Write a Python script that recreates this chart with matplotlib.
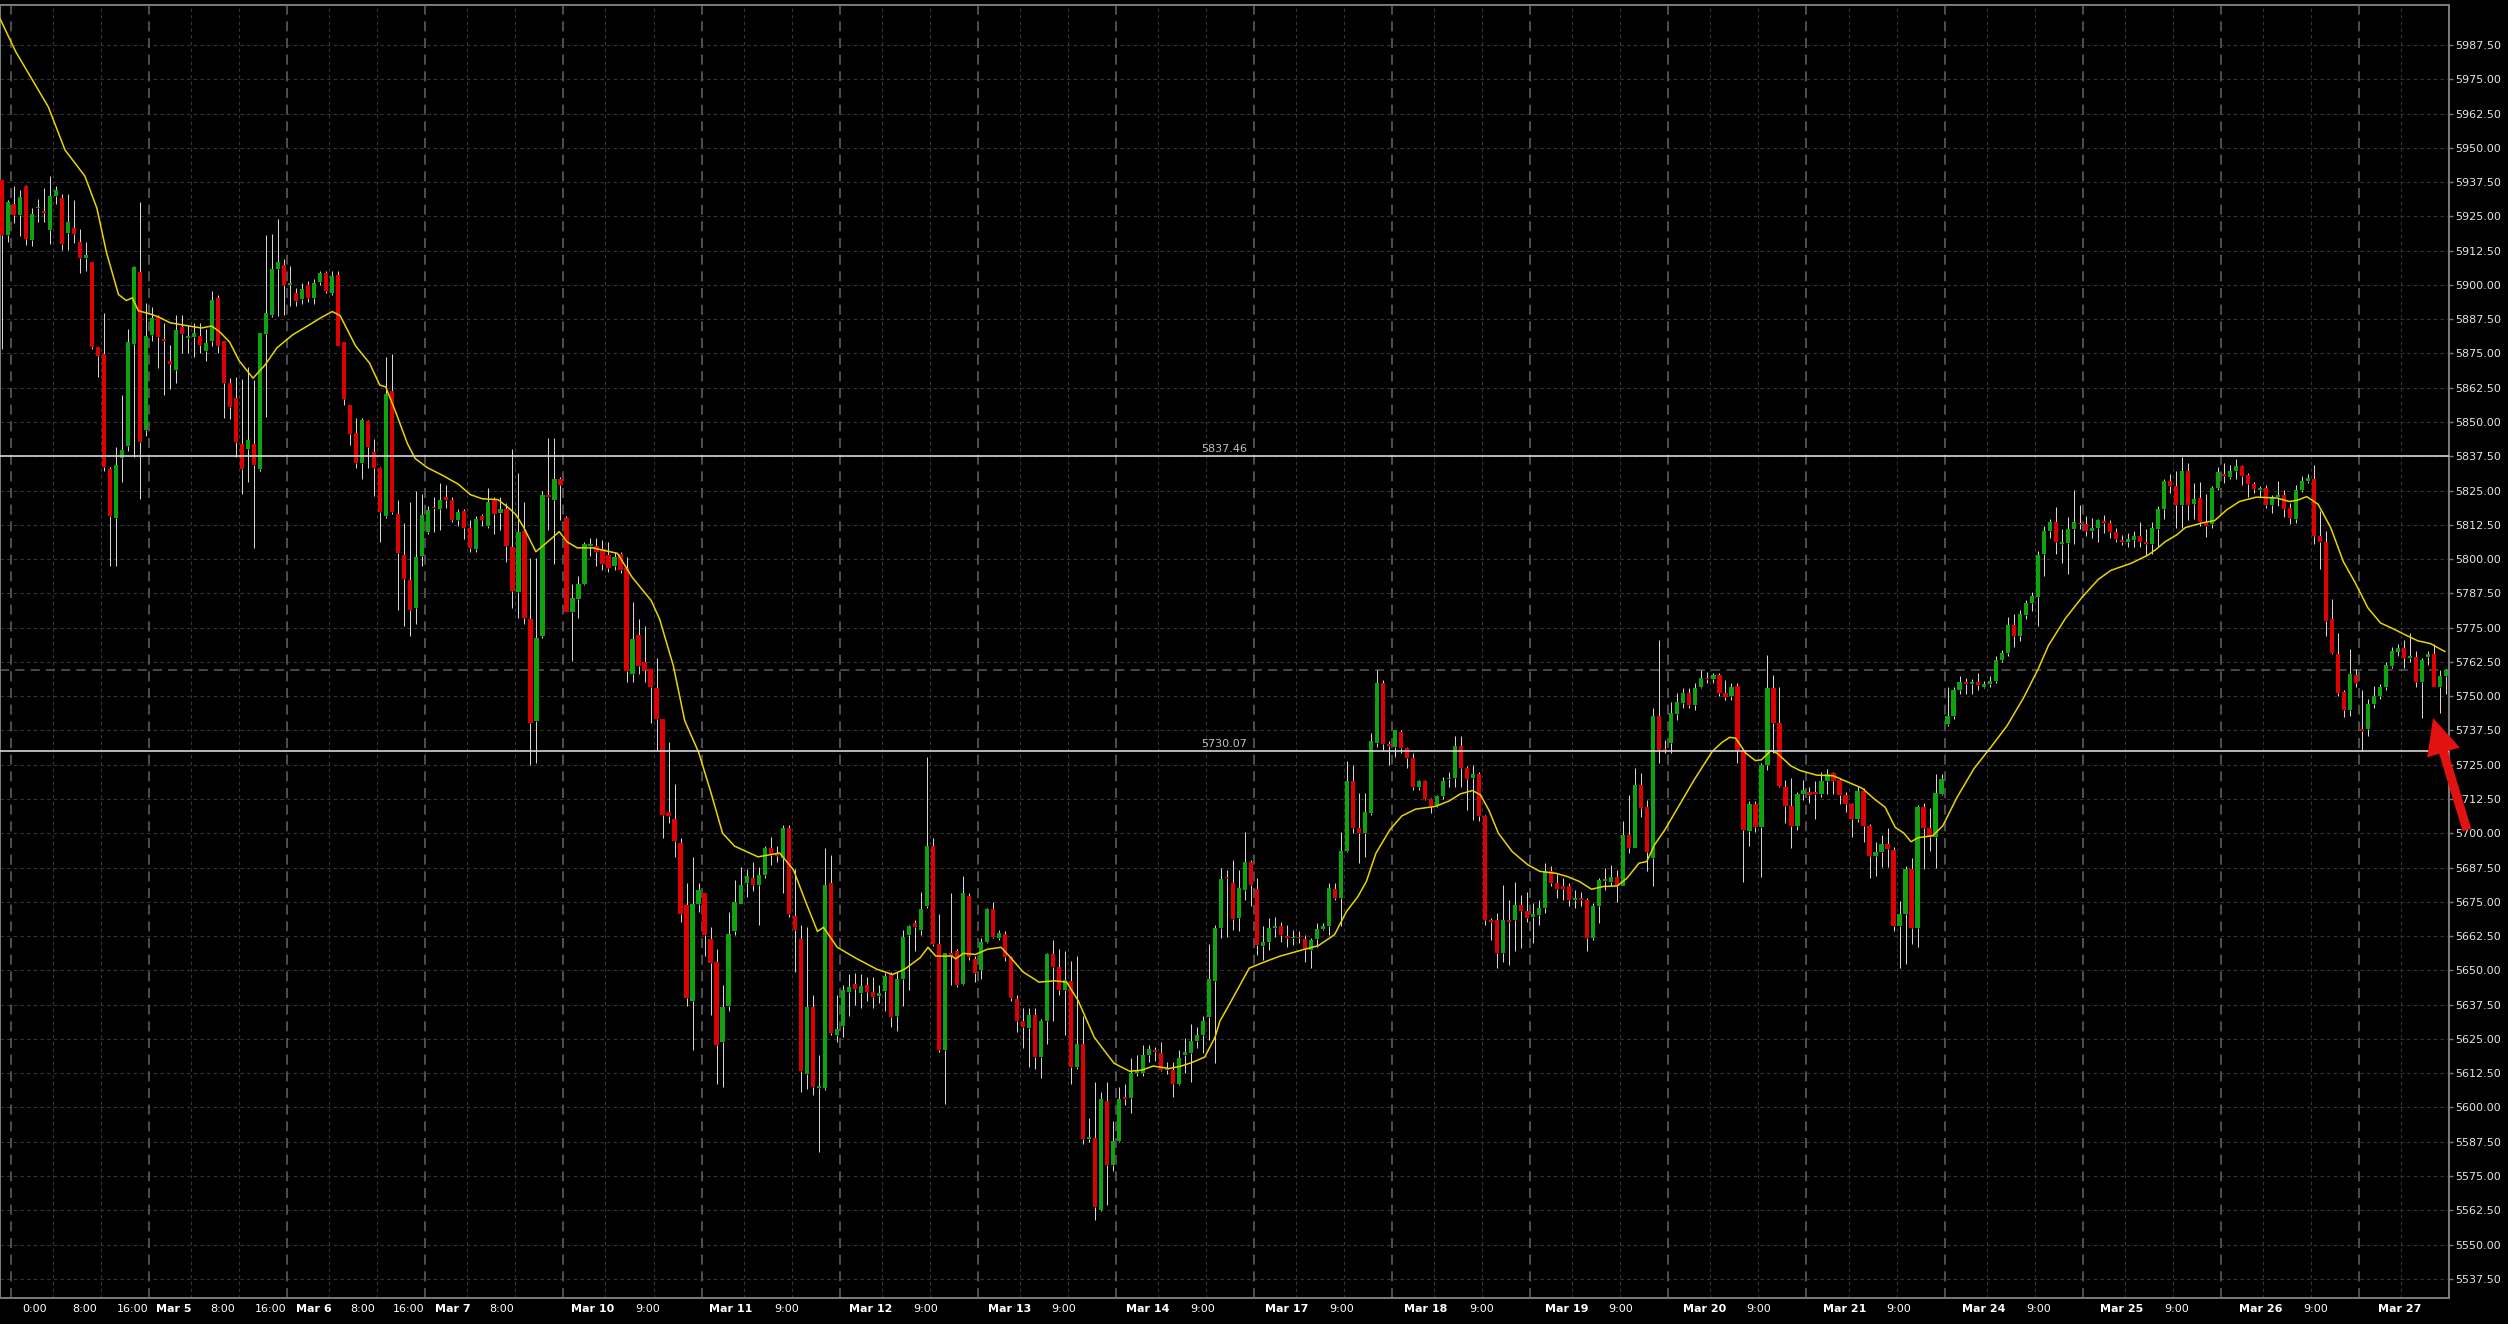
import numpy as np
import matplotlib
matplotlib.use("Agg")
import matplotlib.pyplot as plt
from matplotlib.patches import FancyArrow
from matplotlib.transforms import IdentityTransform

# hourly candles, Mar 2014
opens = [
    5938.2, 5918.1, 5929.7, 5925.5, 5936.0, 5916.4, 5928.0, 5927.0, 5920.2, 5932.6,
    5931.6, 5918.9, 5920.6, 5915.5, 5910.0, 5908.2, 5877.4, 5874.9, 5832.7, 5815.1,
    5836.8, 5841.1, 5878.4, 5904.8, 5847.1, 5881.8, 5888.8, 5880.3, 5872.3, 5868.9,
    5884.7, 5880.7, 5881.1, 5881.5, 5876.0, 5879.6, 5895.3, 5879.6, 5864.2, 5858.8,
    5841.8, 5840.0, 5841.9, 5832.7, 5882.2, 5889.1, 5905.7, 5907.4, 5900.0, 5897.2,
    5895.0, 5900.1, 5895.3, 5901.1, 5904.5, 5896.9, 5903.8, 5879.2, 5856.2, 5845.9,
    5834.9, 5850.3, 5839.0, 5833.2, 5815.9, 5861.3, 5816.3, 5801.5, 5792.4, 5782.2,
    5801.0, 5810.0, 5819.1, 5818.1, 5822.5, 5821.7, 5814.4, 5817.6, 5811.2, 5803.8,
    5815.9, 5811.9, 5821.4, 5816.9, 5818.4, 5804.4, 5788.0, 5810.3, 5778.1, 5740.9,
    5771.9, 5823.2, 5821.7, 5829.1, 5815.1, 5780.7, 5785.5, 5791.0, 5804.9, 5804.9,
    5803.7, 5801.5, 5797.5, 5801.9, 5796.7, 5758.2, 5772.5, 5762.4, 5759.9, 5753.0,
    5741.6, 5707.7, 5705.2, 5696.6, 5673.7, 5639.0, 5674.3, 5678.1, 5661.5, 5652.9,
    5623.7, 5637.1, 5664.2, 5674.3, 5681.9, 5683.6, 5681.3, 5684.8, 5694.7, 5692.4,
    5690.9, 5701.9, 5669.9, 5661.5, 5612.3, 5636.7, 5607.1, 5607.0, 5681.9, 5626.6,
    5629.8, 5642.2, 5645.1, 5641.7, 5644.7, 5642.2, 5640.5, 5642.4, 5648.5, 5633.3,
    5647.0, 5662.8, 5667.2, 5664.7, 5673.3, 5695.3, 5659.6, 5620.9, 5656.5, 5657.1,
    5645.1, 5677.1, 5654.3, 5650.0, 5660.4, 5672.4, 5661.9, 5663.4, 5654.8, 5639.4,
    5631.7, 5629.1, 5633.6, 5618.4, 5631.4, 5655.8, 5651.4, 5642.8, 5646.2, 5614.6,
    5623.3, 5588.4, 5589.0, 5562.7, 5602.2, 5578.9, 5587.9, 5603.7, 5603.3, 5612.7,
    5612.7, 5619.0, 5620.9, 5619.9, 5613.6, 5613.8, 5608.5, 5619.0, 5619.9, 5624.1,
    5626.6, 5632.9, 5646.2, 5665.4, 5684.0, 5681.8, 5669.0, 5679.4, 5689.7, 5679.6,
    5658.9, 5660.5, 5665.4, 5666.0, 5662.6, 5661.7, 5662.3, 5661.4, 5657.5, 5661.4,
    5665.0, 5666.2, 5679.6, 5676.3, 5693.7, 5718.9, 5701.8, 5700.0, 5707.3, 5732.9,
    5754.7, 5732.6, 5731.6, 5737.1, 5731.0, 5727.4, 5717.0, 5718.9, 5712.4, 5710.0,
    5713.6, 5719.7, 5720.3, 5731.9, 5723.7, 5720.1, 5721.7, 5706.3, 5668.4, 5668.2,
    5656.5, 5668.4, 5668.4, 5673.9, 5671.5, 5669.4, 5670.3, 5672.7, 5686.1, 5681.8,
    5680.6, 5680.6, 5675.7, 5676.3, 5675.7, 5661.7, 5673.3, 5682.6, 5682.4, 5684.0,
    5680.6, 5699.4, 5694.6, 5717.6, 5709.5, 5690.9, 5742.6, 5730.6, 5733.1, 5743.6,
    5747.4, 5751.1, 5746.8, 5753.5, 5756.5, 5756.2, 5757.8, 5751.3, 5749.9, 5753.8,
    5730.2, 5701.0, 5710.7, 5702.2, 5725.0, 5752.9, 5740.4, 5717.0, 5710.0, 5702.5,
    5714.4, 5714.9, 5715.1, 5714.2, 5719.0, 5722.0, 5719.4, 5713.8, 5710.6, 5705.3,
    5715.5, 5702.5, 5691.7, 5693.0, 5696.0, 5693.9, 5666.0, 5670.4, 5687.1, 5665.6,
    5709.5, 5702.1, 5698.6, 5714.5, 5739.9, 5742.6, 5752.2, 5755.2, 5754.6, 5755.2,
    5753.5, 5754.4, 5755.5, 5763.3, 5765.6, 5775.9, 5772.0, 5779.6, 5783.9, 5786.1,
    5801.7, 5810.2, 5813.7, 5805.6, 5805.8, 5810.8, 5813.0, 5812.8, 5810.2, 5811.5,
    5813.7, 5813.2, 5809.8, 5806.9, 5806.4, 5807.0, 5808.5, 5806.1, 5805.6, 5811.1,
    5818.3, 5828.4, 5826.7, 5819.7, 5832.3, 5820.2, 5822.3, 5813.4, 5812.8, 5825.8,
    5831.0, 5830.1, 5832.3, 5834.0, 5830.6, 5827.5, 5825.2, 5825.8, 5819.7, 5822.6,
    5823.2, 5818.7, 5814.5, 5825.2, 5828.4, 5829.1, 5808.5, 5806.3, 5778.3, 5765.5,
    5751.6, 5745.1, 5757.7, 5737.9, 5737.9, 5747.0, 5749.9, 5753.5, 5761.1, 5766.3,
    5767.6, 5764.0, 5764.2, 5755.1, 5764.2, 5765.3, 5753.5, 5757.2,
]
highs = [
    5938.2, 5930.9, 5936.0, 5934.5, 5936.3, 5928.0, 5931.3, 5935.3, 5939.7, 5936.0,
    5933.0, 5933.0, 5930.9, 5920.3, 5915.5, 5908.2, 5877.4, 5889.9, 5833.5, 5840.8,
    5859.8, 5884.0, 5907.0, 5930.2, 5893.5, 5891.8, 5889.1, 5886.2, 5878.1, 5889.1,
    5889.1, 5885.5, 5886.2, 5886.2, 5884.0, 5897.9, 5896.2, 5879.6, 5866.0, 5866.4,
    5865.7, 5870.1, 5865.4, 5882.5, 5918.1, 5918.4, 5924.0, 5909.6, 5907.0, 5898.7,
    5900.8, 5901.6, 5902.0, 5905.2, 5905.2, 5905.2, 5905.2, 5879.2, 5856.2, 5851.3,
    5851.3, 5850.7, 5843.7, 5833.5, 5873.8, 5874.8, 5821.7, 5813.2, 5821.0, 5824.7,
    5823.9, 5819.5, 5822.5, 5827.6, 5826.9, 5822.5, 5818.1, 5818.1, 5814.4, 5815.9,
    5816.6, 5826.1, 5822.5, 5822.5, 5820.3, 5840.0, 5831.3, 5821.0, 5800.5, 5800.5,
    5824.7, 5844.0, 5844.0, 5829.8, 5815.9, 5791.0, 5793.9, 5806.3, 5807.8, 5807.8,
    5807.1, 5806.3, 5802.7, 5802.5, 5800.7, 5784.3, 5778.2, 5775.7, 5759.9, 5763.9,
    5741.6, 5733.4, 5718.1, 5698.1, 5681.9, 5691.4, 5681.9, 5678.1, 5665.7, 5657.7,
    5644.7, 5671.4, 5682.9, 5687.6, 5687.1, 5689.5, 5687.6, 5695.3, 5698.5, 5695.3,
    5702.9, 5702.9, 5687.1, 5666.6, 5665.7, 5640.9, 5619.0, 5694.7, 5692.0, 5640.9,
    5644.7, 5648.5, 5648.9, 5648.5, 5647.6, 5647.6, 5644.7, 5648.9, 5649.5, 5649.5,
    5664.7, 5666.6, 5668.5, 5678.7, 5727.7, 5698.1, 5670.5, 5656.5, 5678.1, 5657.7,
    5684.4, 5678.1, 5655.2, 5661.9, 5672.9, 5674.8, 5664.7, 5664.2, 5655.2, 5640.9,
    5636.1, 5636.1, 5636.1, 5632.3, 5656.5, 5660.9, 5657.7, 5657.1, 5653.3, 5655.2,
    5633.3, 5596.1, 5609.4, 5605.6, 5609.4, 5595.1, 5607.5, 5608.5, 5618.0, 5619.0,
    5622.8, 5622.8, 5622.2, 5623.7, 5616.5, 5616.5, 5620.9, 5625.2, 5630.4, 5629.5,
    5633.3, 5659.6, 5666.6, 5687.3, 5686.7, 5690.1, 5686.7, 5700.6, 5690.3, 5683.6,
    5666.0, 5669.0, 5669.6, 5667.8, 5666.6, 5664.8, 5664.2, 5663.0, 5661.7, 5667.2,
    5667.2, 5681.8, 5681.8, 5700.6, 5726.2, 5724.9, 5714.6, 5714.6, 5736.5, 5759.6,
    5755.9, 5733.5, 5737.7, 5737.7, 5731.6, 5729.2, 5719.5, 5719.5, 5712.8, 5714.0,
    5720.7, 5722.5, 5735.3, 5735.3, 5724.6, 5724.9, 5722.5, 5706.7, 5669.0, 5670.8,
    5681.2, 5675.7, 5682.4, 5677.5, 5678.7, 5674.5, 5675.7, 5689.1, 5687.9, 5685.2,
    5683.6, 5681.8, 5679.4, 5678.7, 5676.3, 5674.5, 5683.6, 5687.3, 5688.5, 5686.7,
    5704.3, 5714.0, 5723.7, 5721.9, 5712.2, 5745.6, 5770.5, 5734.1, 5747.7, 5751.1,
    5752.9, 5752.9, 5754.7, 5759.6, 5759.0, 5758.6, 5758.4, 5755.9, 5754.7, 5754.7,
    5730.4, 5711.6, 5711.6, 5725.6, 5765.1, 5757.8, 5753.5, 5719.5, 5720.1, 5715.2,
    5719.5, 5717.0, 5719.0, 5722.5, 5723.6, 5722.5, 5720.3, 5715.1, 5711.2, 5717.1,
    5716.4, 5703.4, 5696.9, 5699.5, 5702.1, 5694.9, 5675.4, 5688.1, 5691.0, 5710.3,
    5711.2, 5709.3, 5721.6, 5721.6, 5753.5, 5753.5, 5757.4, 5756.8, 5756.4, 5758.5,
    5755.5, 5757.4, 5764.6, 5766.8, 5778.9, 5779.8, 5781.5, 5785.1, 5788.1, 5803.0,
    5811.9, 5814.8, 5818.9, 5810.8, 5815.4, 5825.2, 5819.7, 5815.8, 5815.0, 5814.8,
    5816.1, 5814.1, 5811.5, 5808.9, 5809.5, 5810.2, 5813.4, 5810.8, 5813.4, 5819.3,
    5829.3, 5831.0, 5832.3, 5837.2, 5834.9, 5827.8, 5828.0, 5823.9, 5826.7, 5833.6,
    5834.9, 5834.5, 5836.6, 5834.5, 5831.4, 5828.0, 5826.5, 5827.1, 5823.2, 5828.4,
    5825.2, 5820.6, 5827.1, 5830.4, 5831.0, 5834.3, 5817.4, 5810.2, 5785.4, 5773.1,
    5752.2, 5767.2, 5759.8, 5752.2, 5749.0, 5753.8, 5754.6, 5762.4, 5767.9, 5769.2,
    5770.5, 5773.1, 5766.6, 5763.9, 5766.3, 5769.2, 5759.4, 5760.0,
]
lows = [
    5876.7, 5915.8, 5922.5, 5917.7, 5914.6, 5914.3, 5922.8, 5922.8, 5914.8, 5929.4,
    5912.9, 5912.9, 5915.2, 5904.2, 5905.0, 5876.7, 5866.4, 5832.0, 5797.5, 5797.5,
    5828.3, 5839.3, 5837.1, 5822.0, 5844.9, 5879.6, 5869.6, 5859.8, 5862.0, 5864.2,
    5875.2, 5875.2, 5873.7, 5875.2, 5872.3, 5877.7, 5875.2, 5851.3, 5851.0, 5837.1,
    5823.9, 5828.3, 5804.1, 5832.0, 5851.8, 5888.4, 5888.8, 5889.1, 5892.4, 5892.4,
    5893.2, 5893.8, 5893.2, 5900.1, 5897.2, 5896.4, 5877.7, 5856.2, 5841.5, 5833.4,
    5829.1, 5833.4, 5822.9, 5806.3, 5815.1, 5816.6, 5781.4, 5775.6, 5771.9, 5776.3,
    5797.5, 5809.3, 5810.0, 5810.7, 5818.8, 5813.7, 5812.2, 5807.4, 5802.7, 5802.7,
    5812.2, 5811.5, 5809.3, 5810.7, 5799.0, 5782.2, 5778.5, 5776.3, 5725.0, 5725.8,
    5771.2, 5810.7, 5798.3, 5814.4, 5780.7, 5762.8, 5778.5, 5790.6, 5801.2, 5797.5,
    5796.1, 5795.4, 5796.1, 5795.0, 5755.3, 5755.3, 5758.2, 5755.3, 5740.1, 5730.5,
    5698.1, 5703.8, 5691.4, 5667.6, 5637.1, 5620.9, 5671.4, 5655.2, 5633.6, 5608.5,
    5607.5, 5635.2, 5662.8, 5674.3, 5676.8, 5679.0, 5666.6, 5683.8, 5688.6, 5689.5,
    5678.1, 5669.5, 5649.5, 5605.6, 5606.6, 5604.7, 5583.7, 5606.2, 5626.6, 5623.7,
    5625.6, 5633.3, 5637.5, 5636.1, 5639.0, 5636.1, 5638.0, 5635.2, 5629.5, 5627.9,
    5637.1, 5642.8, 5657.1, 5662.8, 5672.9, 5659.0, 5620.3, 5601.2, 5644.7, 5643.8,
    5644.7, 5653.9, 5645.7, 5647.0, 5660.0, 5661.9, 5660.9, 5653.3, 5639.0, 5627.6,
    5621.8, 5614.6, 5614.2, 5610.8, 5623.3, 5631.4, 5640.9, 5626.6, 5608.5, 5614.2,
    5586.5, 5587.5, 5558.9, 5562.3, 5564.6, 5577.0, 5587.5, 5600.8, 5598.0, 5611.3,
    5611.3, 5616.5, 5617.1, 5613.2, 5612.3, 5603.7, 5608.1, 5612.7, 5609.4, 5621.8,
    5619.9, 5624.7, 5616.1, 5661.8, 5662.3, 5664.8, 5664.2, 5675.7, 5673.3, 5655.6,
    5653.8, 5657.5, 5662.3, 5660.5, 5658.7, 5659.3, 5659.9, 5653.2, 5650.8, 5658.7,
    5664.8, 5662.9, 5675.7, 5666.0, 5693.3, 5700.0, 5689.1, 5691.5, 5706.7, 5731.6,
    5730.4, 5725.0, 5728.0, 5729.2, 5723.7, 5715.8, 5715.8, 5712.2, 5707.3, 5709.5,
    5712.4, 5717.0, 5717.0, 5717.0, 5708.5, 5704.9, 5704.3, 5666.6, 5661.1, 5650.8,
    5653.2, 5652.0, 5656.9, 5658.1, 5667.8, 5659.9, 5666.6, 5670.9, 5680.6, 5676.3,
    5675.7, 5673.3, 5672.7, 5673.3, 5656.9, 5661.1, 5667.2, 5679.4, 5680.6, 5675.1,
    5680.6, 5692.7, 5694.6, 5706.1, 5686.1, 5680.6, 5725.6, 5729.2, 5729.2, 5741.4,
    5745.6, 5745.6, 5745.0, 5752.9, 5754.7, 5754.7, 5749.9, 5748.7, 5748.7, 5725.6,
    5682.4, 5695.2, 5700.6, 5684.2, 5723.1, 5729.2, 5717.0, 5703.7, 5694.6, 5701.2,
    5712.2, 5711.0, 5705.3, 5713.2, 5714.5, 5714.5, 5710.8, 5707.9, 5698.8, 5704.0,
    5696.9, 5683.8, 5684.5, 5687.8, 5687.8, 5664.3, 5650.9, 5652.2, 5659.5, 5658.4,
    5687.1, 5693.6, 5687.4, 5713.8, 5739.2, 5741.8, 5750.9, 5750.9, 5750.9, 5752.2,
    5752.9, 5753.5, 5754.8, 5762.4, 5764.6, 5767.9, 5770.2, 5778.3, 5780.9, 5775.7,
    5793.9, 5807.6, 5801.7, 5798.5, 5794.6, 5805.6, 5810.8, 5808.5, 5807.6, 5806.3,
    5809.5, 5807.6, 5806.3, 5805.0, 5804.3, 5804.3, 5804.3, 5801.1, 5801.7, 5804.3,
    5814.8, 5824.1, 5811.5, 5811.5, 5814.1, 5814.8, 5812.1, 5808.2, 5811.5, 5825.2,
    5827.8, 5829.3, 5829.1, 5827.1, 5822.8, 5824.1, 5822.6, 5818.7, 5816.7, 5819.3,
    5815.4, 5812.8, 5813.2, 5824.5, 5827.8, 5805.6, 5796.5, 5771.8, 5765.3, 5749.9,
    5742.5, 5742.8, 5753.5, 5730.1, 5735.3, 5745.7, 5749.0, 5752.2, 5760.1, 5764.6,
    5760.1, 5762.6, 5753.5, 5742.1, 5761.4, 5753.5, 5743.8, 5750.8,
]
closes = [
    5918.1, 5930.2, 5925.5, 5931.9, 5916.7, 5926.0, 5928.3, 5926.3, 5932.6, 5934.5,
    5915.1, 5922.8, 5918.7, 5910.0, 5910.8, 5877.4, 5874.0, 5833.5, 5815.9, 5834.2,
    5839.8, 5879.2, 5906.7, 5842.7, 5881.4, 5887.9, 5881.1, 5879.6, 5871.3, 5883.7,
    5882.2, 5881.1, 5882.5, 5878.1, 5878.9, 5894.6, 5877.7, 5864.2, 5855.4, 5842.7,
    5833.0, 5843.4, 5834.2, 5882.5, 5889.9, 5905.7, 5908.2, 5900.0, 5900.4, 5894.3,
    5898.4, 5895.4, 5900.6, 5904.5, 5897.9, 5903.3, 5877.8, 5858.4, 5845.6, 5835.2,
    5850.7, 5840.8, 5833.4, 5817.3, 5860.3, 5817.3, 5802.4, 5792.7, 5781.4, 5800.8,
    5816.2, 5817.8, 5818.5, 5821.7, 5821.7, 5814.4, 5817.3, 5811.2, 5804.1, 5814.7,
    5814.4, 5821.0, 5816.6, 5818.1, 5804.9, 5788.3, 5810.0, 5778.5, 5740.1, 5771.2,
    5823.2, 5822.5, 5829.1, 5826.9, 5780.7, 5785.8, 5791.0, 5805.6, 5805.6, 5802.7,
    5798.3, 5796.8, 5800.8, 5796.1, 5759.1, 5771.0, 5761.1, 5759.5, 5753.4, 5741.6,
    5706.7, 5706.3, 5697.2, 5670.5, 5639.9, 5674.3, 5679.4, 5662.8, 5652.7, 5622.8,
    5636.7, 5663.4, 5674.9, 5681.0, 5684.4, 5681.3, 5684.8, 5694.7, 5692.0, 5691.6,
    5701.9, 5670.5, 5664.7, 5613.2, 5636.7, 5607.5, 5607.3, 5681.3, 5627.2, 5628.5,
    5642.8, 5643.8, 5643.2, 5644.3, 5642.2, 5640.3, 5641.8, 5648.1, 5632.9, 5647.0,
    5662.3, 5666.1, 5665.7, 5672.4, 5695.3, 5659.6, 5620.9, 5656.2, 5655.2, 5644.7,
    5678.1, 5654.8, 5648.9, 5660.4, 5672.4, 5662.3, 5663.8, 5654.8, 5639.9, 5631.7,
    5629.5, 5633.6, 5618.4, 5631.4, 5655.8, 5651.4, 5642.8, 5646.6, 5614.8, 5623.3,
    5588.4, 5589.4, 5563.6, 5603.1, 5578.9, 5587.9, 5603.1, 5603.1, 5612.7, 5613.6,
    5619.0, 5621.2, 5620.3, 5613.8, 5614.2, 5608.5, 5618.0, 5620.3, 5624.1, 5626.6,
    5631.7, 5647.0, 5665.3, 5683.3, 5683.6, 5668.7, 5680.0, 5689.7, 5681.2, 5659.3,
    5660.5, 5665.4, 5666.0, 5662.9, 5661.7, 5662.3, 5661.7, 5657.5, 5661.1, 5665.0,
    5666.2, 5680.0, 5676.3, 5693.7, 5718.9, 5701.8, 5700.0, 5707.9, 5733.5, 5754.7,
    5732.6, 5731.9, 5737.5, 5731.0, 5727.4, 5717.0, 5718.9, 5712.4, 5710.0, 5713.6,
    5718.9, 5720.3, 5731.9, 5723.7, 5719.7, 5721.7, 5706.3, 5668.4, 5667.8, 5656.3,
    5668.4, 5667.8, 5673.9, 5671.5, 5669.0, 5670.6, 5672.7, 5686.1, 5681.8, 5679.6,
    5679.8, 5675.7, 5676.3, 5675.7, 5661.7, 5673.3, 5682.8, 5683.2, 5684.2, 5680.8,
    5699.4, 5694.6, 5717.6, 5709.1, 5693.0, 5742.6, 5730.4, 5730.2, 5744.0, 5747.7,
    5751.1, 5746.8, 5752.9, 5756.5, 5756.2, 5757.8, 5751.1, 5749.6, 5753.5, 5730.2,
    5701.2, 5710.7, 5702.2, 5725.0, 5752.9, 5740.4, 5717.3, 5709.8, 5702.5, 5714.4,
    5715.9, 5714.0, 5714.2, 5719.0, 5721.6, 5719.0, 5713.8, 5710.8, 5705.3, 5715.5,
    5702.5, 5691.7, 5693.0, 5696.0, 5694.3, 5666.0, 5670.4, 5687.1, 5665.6, 5709.5,
    5702.1, 5698.8, 5714.7, 5719.9, 5742.6, 5752.2, 5755.2, 5754.6, 5755.2, 5753.9,
    5754.4, 5755.5, 5763.3, 5765.6, 5775.9, 5772.0, 5779.8, 5783.9, 5786.4, 5801.5,
    5810.2, 5813.7, 5806.3, 5805.8, 5810.8, 5813.4, 5812.7, 5810.2, 5811.5, 5814.1,
    5813.2, 5809.8, 5807.2, 5806.3, 5807.2, 5808.3, 5806.3, 5805.6, 5811.5, 5818.3,
    5828.4, 5826.7, 5819.7, 5832.3, 5819.7, 5821.9, 5813.7, 5812.1, 5825.8, 5831.7,
    5830.4, 5832.3, 5834.0, 5830.4, 5827.5, 5825.4, 5825.8, 5819.7, 5822.6, 5822.9,
    5818.4, 5815.0, 5825.2, 5828.4, 5829.7, 5808.5, 5806.3, 5777.6, 5765.9, 5751.2,
    5745.1, 5758.1, 5754.8, 5737.2, 5747.0, 5749.9, 5753.3, 5761.4, 5766.3, 5767.6,
    5764.0, 5764.6, 5755.1, 5763.3, 5765.3, 5753.5, 5757.2, 5759.6,
]

# moving average (candle position, value)
ma_pos = [
    -0.3, 2.3, 5.0, 7.7, 10.5, 13.8, 15.8, 17.4, 19.4, 20.7, 21.7, 22.7, 24.7, 26.0,
    28.0, 30.6, 33.2, 34.9, 36.2, 37.9, 39.5, 41.8, 43.8, 45.8,
    48.4, 51.0, 53.0, 55.0, 56.3, 58.9, 61.2, 62.9, 63.9, 65.5,
    67.5, 68.8, 70.8, 73.4, 76.0, 78.0, 80.0, 82.6, 84.3, 85.6,
    86.9, 88.9, 90.5, 92.8, 94.1, 95.8, 98.4, 100.4,
    102.5, 104.9, 108.1, 109.5, 111.8, 113.7, 116.0, 118.0, 120.0, 122.0,
    125.9, 129.5, 131.8, 133.8, 135.8, 136.8, 139.1, 142.4, 145.7, 148.3,
    150.3, 152.9, 154.2, 155.5, 158.2, 158.8, 160.1, 162.1, 164.1, 166.4,
    168.0, 170.0, 172.7, 175.3, 177.3, 179.2, 181.9, 183.2, 185.2, 187.8,
    189.8, 191.7, 194.4, 196.4, 198.3, 200.3, 202.0, 202.8,
    204.8, 207.7, 209.7, 212.7, 216.6, 219.2, 221.9, 223.9, 225.8, 227.2,
    228.8, 231.1, 233.1, 235.4, 238.7, 241.0, 242.9, 244.9, 246.2, 247.6,
    249.2, 251.5, 254.1, 256.1, 258.8, 260.7, 262.7, 264.7, 266.7, 269.0,
    270.6, 272.6, 273.9, 275.2, 276.9, 279.2, 281.8, 284.8, 286.4, 287.7,
    288.7, 290.4, 292.0, 293.0, 294.6, 295.6, 297.9,
    299.4, 302.2, 304.9, 307.7, 309.8, 311.8, 313.6, 315.3, 316.7, 317.9,
    319.1, 321.5, 323.2, 325.6, 328.4, 331.2, 333.9, 336.7, 339.1, 340.8,
    343.6, 346.4, 349.1, 351.2, 354.6, 357.4, 358.8, 360.2, 362.2, 363.6,
    366.4, 368.5, 370.5, 372.6, 375.4, 378.8, 380.9, 382.3, 383.8, 385.7,
    387.8, 389.9, 391.9, 394.0, 396.1, 398.2, 400.2, 402.3, 404.4, 406.8,
]
ma_vals = [
    5997, 5985, 5975, 5965,
    5949.2, 5939.7, 5928.0, 5911.8, 5896.5, 5894.3, 5895.3, 5890.6, 5889.4, 5888.4,
    5886.2, 5885.2, 5884.3, 5885.0, 5883.0, 5879.2, 5872.3, 5866.0, 5870.8, 5877.1,
    5881.8, 5885.2, 5887.9, 5890.3, 5888.8, 5877.7, 5871.5, 5863.5, 5862.8, 5854.0,
    5842.2, 5836.7, 5833.4, 5830.5, 5827.3, 5823.5, 5822.0, 5821.7, 5818.8, 5816.2,
    5811.5, 5802.7, 5805.6, 5810.0, 5806.3, 5804.1, 5804.1, 5803.1,
    5802.1, 5793.5, 5784.9, 5778.2, 5761.1, 5741.0, 5729.6, 5715.3, 5700.0, 5695.3,
    5691.4, 5692.8, 5686.7, 5675.2, 5664.2, 5665.7, 5658.4, 5654.2, 5650.4, 5648.5,
    5650.4, 5654.6, 5658.4, 5655.2, 5655.2, 5654.2, 5656.2, 5655.8, 5657.7, 5658.4,
    5654.6, 5649.5, 5645.7, 5646.2, 5645.7, 5639.0, 5625.6, 5621.8, 5616.1, 5613.2,
    5613.6, 5615.1, 5614.2, 5615.1, 5616.5, 5618.4, 5625.6, 5631.4,
    5639.2, 5650.8, 5652.6, 5655.1, 5657.5, 5659.0, 5663.0, 5671.5, 5676.9, 5682.4,
    5692.7, 5701.2, 5706.3, 5708.8, 5709.8, 5711.8, 5714.4, 5715.6, 5714.0, 5708.5,
    5700.0, 5693.3, 5688.5, 5686.1, 5685.4, 5684.2, 5682.4, 5679.6, 5680.6, 5680.8,
    5683.6, 5689.1, 5689.7, 5695.8, 5701.2, 5709.8, 5719.5, 5729.8, 5733.1, 5735.0,
    5734.7, 5729.2, 5726.5, 5726.8, 5730.2, 5729.2, 5724.6,
    5722.9, 5721.2, 5721.0, 5718.4, 5716.4, 5712.5, 5709.5, 5702.1, 5700.1, 5696.9,
    5698.4, 5699.1, 5702.7, 5713.2, 5723.6, 5731.4, 5739.2, 5749.6, 5760.0, 5768.5,
    5778.3, 5786.1, 5792.6, 5795.9, 5798.5, 5801.5, 5803.7, 5806.3, 5808.9, 5811.5,
    5813.2, 5814.1, 5818.0, 5821.0, 5822.6, 5822.3, 5821.0, 5821.5, 5822.8, 5820.0,
    5811.5, 5799.1, 5791.3, 5782.2, 5776.7, 5774.6, 5772.4, 5770.2, 5769.2, 5766.3,
]

levels = [5837.46, 5730.07]

# first candle of each trading day
day_first = [2, 25, 48, 71, 94, 117, 140, 163, 186, 209, 232, 255, 278, 301, 324, 347, 370, 393]

tick_pos = [5.5, 13.8, 21.7, 28.6, 36.7, 44.8, 51.9, 60.0, 67.7, 75.1, 83.2,
            98.3, 107.5, 121.3, 130.6, 144.6, 153.8, 167.8, 176.8, 190.8, 199.9,
            214.0, 223.1, 237.1, 246.4, 260.5, 269.5, 283.5, 292.5, 306.8, 315.8,
            330.0, 339.1, 353.0, 362.2, 376.2, 385.3, 399.3]
tick_text = ['0:00', '8:00', '16:00', 'Mar 5', '8:00', '16:00', 'Mar 6', '8:00', '16:00', 'Mar 7', '8:00',
             'Mar 10', '9:00', 'Mar 11', '9:00', 'Mar 12', '9:00', 'Mar 13', '9:00', 'Mar 14', '9:00',
             'Mar 17', '9:00', 'Mar 18', '9:00', 'Mar 19', '9:00', 'Mar 20', '9:00', 'Mar 21', '9:00',
             'Mar 24', '9:00', 'Mar 25', '9:00', 'Mar 26', '9:00', 'Mar 27']

GREEN = '#0ea20e'
RED = '#dc0000'
GRID = '#363636'
SEP = '#5c5c5c'

fig = plt.figure(figsize=(25.08, 13.24), dpi=100, facecolor='black')
ax = fig.add_axes([0.0, 26 / 1324, 2449 / 2508, 1293 / 1324])
ax.set_facecolor('black')

o = np.array(opens)
h = np.array(highs)
l = np.array(lows)
c = np.array(closes)
x = np.arange(len(c))

ax.set_xlim(-0.333, 407.5)
ax.set_ylim(5530.5, 6002.1)

yticks = np.arange(5537.5, 5990, 12.5)
for yv in yticks:
    ax.axhline(yv, color=GRID, lw=0.8, ls=(0, (3, 3)), zorder=0)
for d in day_first:
    ax.axvline(d - 0.5, color=SEP, lw=1.2, ls=(0, (6, 4)), zorder=0)
    for off in (7, 15):
        ax.axvline(d - 0.5 + off, color=GRID, lw=0.8, ls=(0, (3, 3)), zorder=0)

# current price
ax.axhline(c[-1], color=SEP, lw=1.1, ls=(0, (6, 4)), zorder=1)

# candles: wick only outside the body, body on top
top = np.maximum(o, c)
bot = np.minimum(o, c)
ax.vlines(x, top, np.maximum(h, top), color='white', lw=0.6, snap=True, zorder=2)
ax.vlines(x, np.minimum(l, bot), bot, color='white', lw=0.6, snap=True, zorder=2)
body = np.maximum(top - bot, 0.6)
ax.bar(x, body, bottom=bot, width=0.7, color=np.where(c >= o, GREEN, RED), lw=0, zorder=3)

ax.plot(ma_pos, ma_vals, color='#e6d600', lw=1.1, zorder=4)

for lv in levels:
    ax.axhline(lv, color='#d6d6d6', lw=1.2, zorder=4)
    ax.annotate('%.2f' % lv, (203.5, lv), xytext=(0, 1.5), textcoords='offset points',
                ha='center', va='bottom', color='#c0c0c0', fontsize=8,
                family=['Liberation Sans Narrow', 'DejaVu Sans'], zorder=5)

# axes styling
for s in ax.spines.values():
    s.set_color('#7c7c7c')
    s.set_linewidth(1.4)
ax.yaxis.tick_right()
ax.set_yticks(yticks)
ax.set_yticklabels(['%.2f' % v for v in yticks])
ax.tick_params(axis='y', colors='#7c7c7c', labelcolor='#e6e6e6', labelsize=8, length=3, width=1, pad=1.5)
ax.set_xticks(tick_pos)
ax.set_xticklabels(tick_text)
ax.tick_params(axis='x', length=0, labelcolor='white', labelsize=8, pad=4)
for lab in ax.get_xticklabels():
    if lab.get_text().startswith('Mar'):
        lab.set_fontweight('bold')

# red pointer arrow
arrow = FancyArrow(2467, 494, -34, 112, width=9, head_width=34, head_length=36,
                   length_includes_head=True, color='#e31212', lw=0,
                   transform=IdentityTransform(), zorder=10)
fig.add_artist(arrow)

fig.savefig('out.png', dpi=100, facecolor='black')
